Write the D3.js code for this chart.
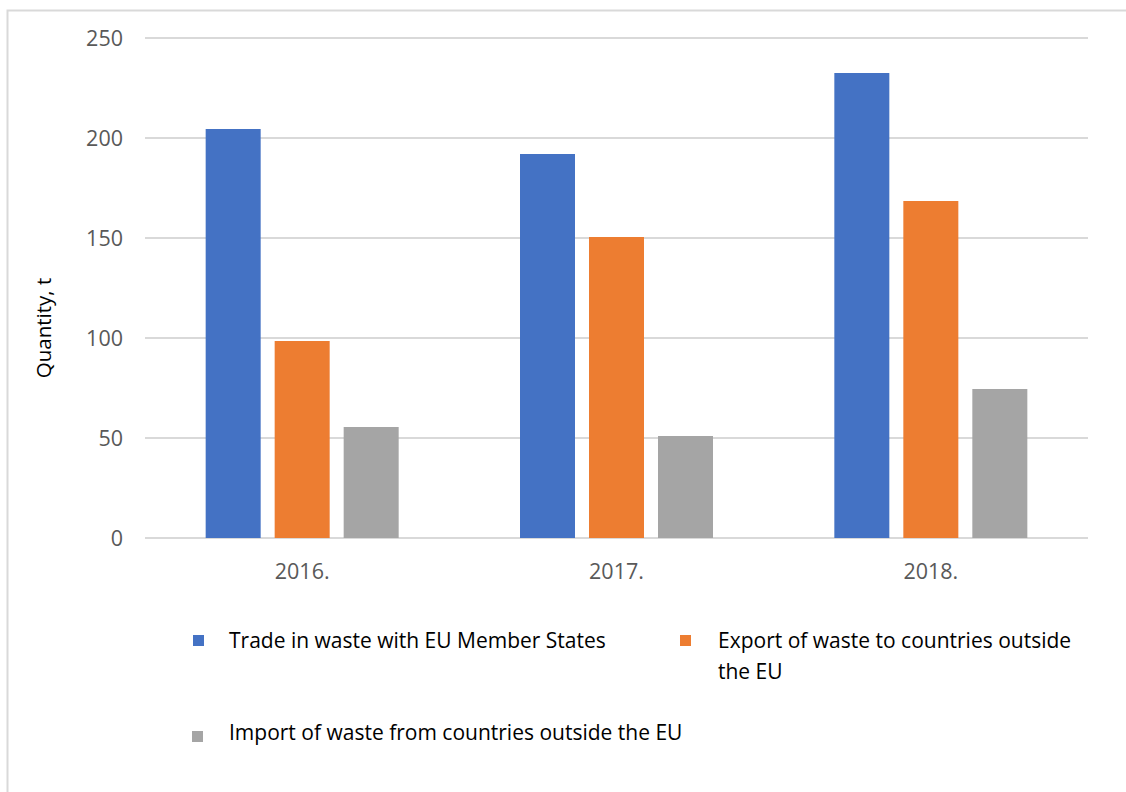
<!DOCTYPE html>
<html><head><meta charset="utf-8">
<script src="https://cdn.jsdelivr.net/npm/d3@7"></script>
<style>
html,body{margin:0;padding:0;background:#fff;}
svg{display:block;font-family:"Open Sans","Noto Sans",sans-serif;}
</style></head>
<body><svg id="c" width="1126" height="792"></svg>
<script>
const categories = ["2016.", "2017.", "2018."];
const seriesNames = ["Trade in waste with EU Member States", "Export of waste to countries outside the EU", "Import of waste from countries outside the EU"];
const tradeEU = [204.5, 192, 232.5];
const exportOutside = [98.5, 150.5, 168.5];
const importOutside = [55.5, 51, 74.5];
const yTicks = [0, 50, 100, 150, 200, 250];
const colors = ["#4472C4", "#ED7D31", "#A5A5A5"];

(function () {
const series = [tradeEU, exportOutside, importOutside];
const svg = d3.select("#c");

// outer border
svg.append("path").attr("d", "M7.5,800 V10.5 H1130").attr("fill", "none").attr("stroke", "#d9d9d9").attr("stroke-width", 2);

const pL = 145, pR = 1088, pT = 38, pB = 538;
const x = d3.scaleBand().domain(categories).range([pL, pR]);
const y = d3.scaleLinear().domain([0, 250]).range([pB, pT]);
const barW = 55, gap = 14;
const groupW = 3 * barW + 2 * gap;
const xs = d3.scaleBand().domain(d3.range(3)).range([0, groupW]).paddingInner(gap / (barW + gap));

// gridlines
svg.append("g").selectAll("line").data(yTicks).join("line")
  .attr("x1", pL).attr("x2", pR)
  .attr("y1", d => y(d)).attr("y2", d => y(d))
  .attr("stroke", "#d9d9d9").attr("stroke-width", 2);

// y tick labels
svg.append("g").selectAll("text").data(yTicks).join("text")
  .attr("x", 123).attr("y", d => y(d)).attr("dy", "0.36em")
  .attr("text-anchor", "end").attr("fill", "#595959").attr("font-size", 21.5)
  .text(d => d);

// bars
series.forEach((vals, si) => {
  svg.append("g").selectAll("rect").data(vals).join("rect")
    .attr("x", (d, i) => x(categories[i]) + (x.bandwidth() - groupW) / 2 + xs(si))
    .attr("width", xs.bandwidth())
    .attr("y", d => y(d))
    .attr("height", d => y(0) - y(d))
    .attr("fill", colors[si]);
});

// x labels
svg.append("g").selectAll("text").data(categories).join("text")
  .attr("x", d => x(d) + x.bandwidth() / 2).attr("y", 579)
  .attr("text-anchor", "middle").attr("fill", "#595959").attr("font-size", 21.5)
  .text(d => d);

// y title
svg.append("text").attr("transform", "translate(51,328) rotate(-90)")
  .attr("text-anchor", "middle").attr("fill", "#000").attr("font-size", 20.5)
  .text("Quantity, t");

// legend
const leg = [
  {i: 0, sx: 193, sy: 635, tx: 229, ty: 648, lines: [seriesNames[0]]},
  {i: 1, sx: 680, sy: 635, tx: 718, ty: 648, lines: ["Export of waste to countries outside", "the EU"]},
  {i: 2, sx: 192, sy: 731, tx: 229, ty: 740, lines: [seriesNames[2]]}
];
leg.forEach(l => {
  svg.append("rect").attr("x", l.sx).attr("y", l.sy).attr("width", 11).attr("height", 11).attr("fill", colors[l.i]);
  const t = svg.append("text").attr("x", l.tx).attr("y", l.ty).attr("font-size", 21).attr("fill", "#000");
  l.lines.forEach((s, k) => t.append("tspan").attr("x", l.tx).attr("dy", k ? 31 : 0).text(s));
});
})();
</script></body></html>
